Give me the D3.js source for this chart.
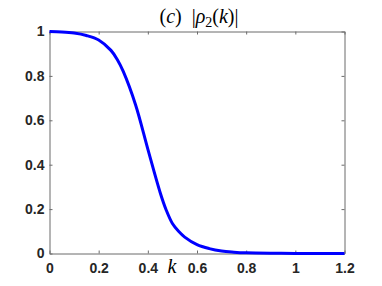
<!DOCTYPE html>
<html>
  <head>
    <meta charset="utf-8">
    <title></title>
    <script src="https://cdn.jsdelivr.net/npm/d3@7/dist/d3.min.js" charset="utf-8"></script>
    <style>
      body{margin:0;background:#fff;}
      .tick text{font-family:'Liberation Sans', Arial, sans-serif;font-weight:bold;font-size:14px;fill:#262626;}
      .domain, .tick line{stroke:#6b6b6b;}
    </style>
    <script>
    // data
    let kVals=[0, 0.05, 0.1, 0.15, 0.2, 0.25, 0.275, 0.3, 0.35, 0.4, 0.45, 0.475, 0.5, 0.525, 0.55, 0.6, 0.65, 0.7, 0.75, 0.8, 0.9, 1.0, 1.1, 1.2];
    let rhoVals=[1, 0.998, 0.993, 0.982, 0.962, 0.915, 0.875, 0.82, 0.67, 0.47, 0.275, 0.195, 0.135, 0.1, 0.074, 0.04, 0.022, 0.011, 0.006, 0.003, 0.001, 0.0005, 0.0002, 0.0001];
    let xTicks=[0, 0.2, 0.4, 0.6, 0.8, 1, 1.2];
    let yTicks=[0, 0.2, 0.4, 0.6, 0.8, 1];

    window.onload=function (){
      let svg=d3.select('body').append('svg').attr('width', 382).attr('height', 286);

      let x=d3.scaleLinear().domain([0, 1.2]).range([49.5, 344.5]);
      let y=d3.scaleLinear().domain([0, 1]).range([253.5, 31.5]);

      //坐标轴
      svg.append('g')
        .attr('transform', 'translate(0,253.5)')
        .call(d3.axisBottom(x).tickValues(xTicks).tickFormat(d3.format('')).tickSizeInner(-3).tickSizeOuter(0).tickPadding(10));
      svg.append('g')
        .attr('transform', 'translate(0,31.5)')
        .call(d3.axisTop(x).tickValues(xTicks).tickFormat('').tickSizeInner(-3).tickSizeOuter(0));
      svg.append('g')
        .attr('transform', 'translate(49.5,0)')
        .call(d3.axisLeft(y).tickValues(yTicks).tickFormat(d3.format('')).tickSizeInner(-3).tickSizeOuter(0).tickPadding(5));
      svg.append('g')
        .attr('transform', 'translate(344.5,0)')
        .call(d3.axisRight(y).tickValues(yTicks).tickFormat('').tickSizeInner(-3).tickSizeOuter(0));

      svg.selectAll('.domain').attr('stroke', '#6b6b6b');

      //曲线
      let pts=kVals.map((k, i)=>[k, rhoVals[i]]);
      let line=d3.line()
        .x(d=>x(d[0]))
        .y(d=>y(d[1]))
        .curve(d3.curveCatmullRom.alpha(0.5));

      svg.append('path')
        .attr('d', line(pts))
        .attr('fill', 'none')
        .attr('stroke', '#0000ff')
        .attr('stroke-width', 3)
        .attr('stroke-linejoin', 'round');

      //标题
      let title=svg.append('text')
        .attr('x', 199).attr('y', 23)
        .attr('text-anchor', 'middle')
        .style('font-family', "'Liberation Serif', 'Times New Roman', serif")
        .style('font-size', '20px')
        .attr('fill', '#000');
      title.append('tspan').text('(');
      title.append('tspan').style('font-style', 'italic').text('c');
      title.append('tspan').text(')\u2002|');
      title.append('tspan').style('font-style', 'italic').text('ρ');
      title.append('tspan').attr('dy', 4).style('font-size', '14px').text('2');
      title.append('tspan').attr('dy', -4).text('(');
      title.append('tspan').style('font-style', 'italic').text('k');
      title.append('tspan').text(')|');

      //x 轴标签
      svg.append('text')
        .attr('x', 172).attr('y', 273)
        .attr('text-anchor', 'middle')
        .style('font-family', "'Liberation Serif', 'Times New Roman', serif")
        .style('font-style', 'italic')
        .style('font-size', '20px')
        .attr('fill', '#000')
        .text('k');
    };
    </script>
  </head>
  <body>
  </body>
</html>
